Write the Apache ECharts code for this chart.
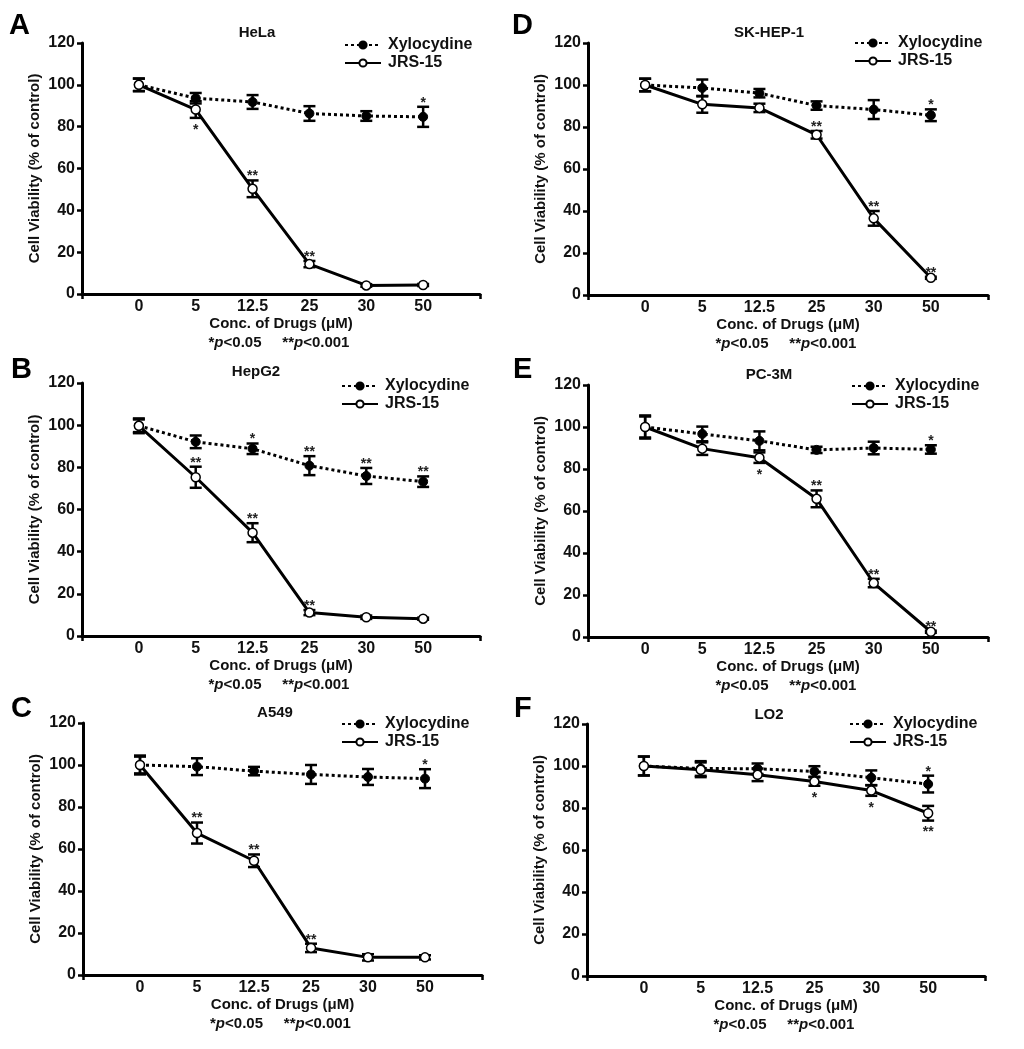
<!DOCTYPE html>
<html>
<head>
<meta charset="utf-8">
<script src="https://cdn.jsdelivr.net/npm/echarts@6/dist/echarts.min.js"></script>
<style>
  html, body { margin: 0; padding: 0; background: #fff; }
  #chart { width: 1024px; height: 1049px; }
</style>
</head>
<body>
<div id="chart"></div>
<script>
var FONT = 'Arial, "Liberation Sans", Helvetica, sans-serif';

var cats = ['0', '5', '12.5', '25', '30', '50'];

// A - HeLa
var helaXylo = [100, 93.6, 91.8, 86.3, 85.1, 84.7];
var helaXyloErr = [3, 2.5, 3.3, 3.5, 2.3, 4.8];
var helaJrs = [100, 88.2, 50.3, 14.3, 4.1, 4.3];
var helaJrsErr = [3, 4, 4, 1.5, 0.6, 0.5];
var helaXyloSig = ['', '', '', '', '', '*'];
var helaJrsSig = ['', '*', '**', '**', '', ''];
var helaJrsBelow = [0, 1, 0, 0, 0, 0];

// B - HepG2
var hepg2Xylo = [99.7, 92.1, 88.8, 80.8, 75.9, 73.2];
var hepg2XyloErr = [3.5, 3, 2.5, 4.5, 3.8, 2.5];
var hepg2Jrs = [99.7, 75.3, 49, 11.1, 8.9, 8.2];
var hepg2JrsErr = [3, 5, 4.5, 1.2, 0.8, 0.5];
var hepg2XyloSig = ['', '', '*', '**', '**', '**'];
var hepg2JrsSig = ['', '**', '**', '**', '', ''];
var hepg2JrsBelow = [0, 0, 0, 0, 0, 0];

// C - A549
var a549Xylo = [100, 99.2, 97.1, 95.5, 94.3, 93.5];
var a549XyloErr = [4.5, 4, 2, 4.5, 3.8, 4.5];
var a549Jrs = [100, 67.6, 54.4, 12.9, 8.4, 8.4];
var a549JrsErr = [4, 5, 3, 2, 1.5, 1];
var a549XyloSig = ['', '', '', '', '', '*'];
var a549JrsSig = ['', '**', '**', '**', '', ''];
var a549JrsBelow = [0, 0, 0, 0, 0, 0];

// D - SK-HEP-1
var skXylo = [100, 98.6, 96.1, 90.2, 88.3, 85.6];
var skXyloErr = [3, 4, 2, 2, 4.5, 2.8];
var skJrs = [100, 90.8, 89.1, 76.3, 36.5, 8.2];
var skJrsErr = [3, 4, 2, 1.8, 3.5, 0.5];
var skXyloSig = ['', '', '', '', '', '*'];
var skJrsSig = ['', '', '', '**', '**', '**'];
var skJrsBelow = [0, 0, 0, 0, 0, 0];

// E - PC-3M
var pcXylo = [100, 96.7, 93.4, 89.1, 90, 89.3];
var pcXyloErr = [5.5, 3.5, 4.5, 1.5, 3, 2];
var pcJrs = [100, 89.7, 85.4, 65.8, 25.7, 2.5];
var pcJrsErr = [5, 3, 2.5, 4, 2, 0.5];
var pcXyloSig = ['', '', '', '', '', '*'];
var pcJrsSig = ['', '', '*', '**', '**', '**'];
var pcJrsBelow = [0, 0, 1, 0, 0, 0];

// F - LO2
var lo2Xylo = [100, 98.8, 98.7, 97.4, 94.4, 91.4];
var lo2XyloErr = [4.5, 3.5, 2.5, 2.5, 3.5, 4];
var lo2Jrs = [100, 98.2, 95.8, 92.6, 88.3, 77.5];
var lo2JrsErr = [4.5, 3.5, 3, 2, 2.5, 3.5];
var lo2XyloSig = ['', '', '', '', '', '*'];
var lo2JrsSig = ['', '', '', '*', '*', '**'];
var lo2JrsBelow = [0, 0, 0, 1, 1, 1];

var panels = [
  { letter: 'A', name: 'HeLa', xylo: helaXylo, xyloErr: helaXyloErr, jrs: helaJrs, jrsErr: helaJrsErr,
    xyloSig: helaXyloSig, jrsSig: helaJrsSig, jrsBelow: helaJrsBelow,
    grid: [82, 43, 398, 251], letterAt: [9, 25], titleAt: [257, 33], legendAt: [344, 37] },
  { letter: 'B', name: 'HepG2', xylo: hepg2Xylo, xyloErr: hepg2XyloErr, jrs: hepg2Jrs, jrsErr: hepg2JrsErr,
    xyloSig: hepg2XyloSig, jrsSig: hepg2JrsSig, jrsBelow: hepg2JrsBelow,
    grid: [82, 383, 398, 253], letterAt: [11, 369], titleAt: [256, 372], legendAt: [341, 378] },
  { letter: 'C', name: 'A549', xylo: a549Xylo, xyloErr: a549XyloErr, jrs: a549Jrs, jrsErr: a549JrsErr,
    xyloSig: a549XyloSig, jrsSig: a549JrsSig, jrsBelow: a549JrsBelow,
    grid: [83, 723, 399, 252], letterAt: [11, 708], titleAt: [275, 713], legendAt: [341, 716] },
  { letter: 'D', name: 'SK-HEP-1', xylo: skXylo, xyloErr: skXyloErr, jrs: skJrs, jrsErr: skJrsErr,
    xyloSig: skXyloSig, jrsSig: skJrsSig, jrsBelow: skJrsBelow,
    grid: [588, 43, 400, 252], letterAt: [512, 25], titleAt: [769, 33], legendAt: [854, 35] },
  { letter: 'E', name: 'PC-3M', xylo: pcXylo, xyloErr: pcXyloErr, jrs: pcJrs, jrsErr: pcJrsErr,
    xyloSig: pcXyloSig, jrsSig: pcJrsSig, jrsBelow: pcJrsBelow,
    grid: [588, 385, 400, 252], letterAt: [513, 369], titleAt: [769, 375], legendAt: [851, 378] },
  { letter: 'F', name: 'LO2', xylo: lo2Xylo, xyloErr: lo2XyloErr, jrs: lo2Jrs, jrsErr: lo2JrsErr,
    xyloSig: lo2XyloSig, jrsSig: lo2JrsSig, jrsBelow: lo2JrsBelow,
    grid: [587, 724, 398, 252], letterAt: [514, 708], titleAt: [769, 715], legendAt: [849, 716] }
];

var chart = echarts.init(document.getElementById('chart'));

function errorBars(vals, errs) {
  return vals.map(function (v, i) { return [i, v - errs[i], v + errs[i]]; });
}

function renderError(params, api) {
  var top = api.coord([api.value(0), api.value(2)]);
  var bot = api.coord([api.value(0), api.value(1)]);
  var w = 6;
  var st = { stroke: '#000', lineWidth: 2.5 };
  return {
    type: 'group',
    children: [
      { type: 'line', shape: { x1: top[0], y1: top[1], x2: bot[0], y2: bot[1] }, style: st },
      { type: 'line', shape: { x1: top[0] - w, y1: top[1], x2: top[0] + w, y2: top[1] }, style: st },
      { type: 'line', shape: { x1: bot[0] - w, y1: bot[1], x2: bot[0] + w, y2: bot[1] }, style: st }
    ]
  };
}

var grid = [], xAxis = [], yAxis = [], series = [], legend = [], graphic = [];

panels.forEach(function (p, k) {
  grid.push({ left: p.grid[0], top: p.grid[1], width: p.grid[2], height: p.grid[3] });

  xAxis.push({
    gridIndex: k, type: 'value', min: -1, max: 6, interval: 1,
    name: 'Conc. of Drugs (μM)', nameLocation: 'middle', nameGap: 21,
    nameTextStyle: { fontFamily: FONT, fontWeight: 'bold', fontSize: 15, color: '#111' },
    axisLine: { onZero: false, lineStyle: { color: '#000', width: 3 } },
    axisTick: { customValues: [-1, 6], length: 5, lineStyle: { color: '#000', width: 2.5 } },
    axisLabel: {
      customValues: [0, 1, 2, 3, 4, 5],
      formatter: function (v) { return (v >= 0 && v <= 5) ? cats[v] : ''; },
      fontFamily: FONT, fontWeight: 'bold', fontSize: 16, color: '#111', margin: 5
    },
    splitLine: { show: false }
  });

  yAxis.push({
    gridIndex: k, type: 'value', min: 0, max: 120, interval: 20,
    name: 'Cell Viability (% of control)', nameLocation: 'middle', nameGap: 40,
    nameTextStyle: { fontFamily: FONT, fontWeight: 'bold', fontSize: 15, color: '#111' },
    axisLine: { show: true, onZero: false, lineStyle: { color: '#000', width: 3 } },
    axisTick: { show: true, length: 5, lineStyle: { color: '#000', width: 2.5 } },
    axisLabel: { fontFamily: FONT, fontWeight: 'bold', fontSize: 16, color: '#111', margin: 7 },
    splitLine: { show: false }
  });

  var xyloBars = errorBars(p.xylo, p.xyloErr);
  var jrsBars = errorBars(p.jrs, p.jrsErr);

  series.push({
    type: 'custom', xAxisIndex: k, yAxisIndex: k, z: 2, silent: true,
    renderItem: renderError, data: xyloBars
  });
  series.push({
    type: 'custom', xAxisIndex: k, yAxisIndex: k, z: 2, silent: true,
    renderItem: renderError, data: jrsBars
  });

  series.push({
    name: 'Xylocydine', type: 'line', xAxisIndex: k, yAxisIndex: k, z: 3,
    data: p.xylo.map(function (v, i) { return [i, v]; }),
    symbol: 'circle', symbolSize: 9,
    itemStyle: { color: '#000', borderColor: '#000', borderWidth: 1 },
    lineStyle: { color: '#000', width: 3, type: [3, 3] }
  });
  series.push({
    name: 'JRS-15', type: 'line', xAxisIndex: k, yAxisIndex: k, z: 4,
    data: p.jrs.map(function (v, i) { return [i, v]; }),
    symbol: 'circle', symbolSize: 9,
    itemStyle: { color: '#fff', borderColor: '#000', borderWidth: 1.5 },
    lineStyle: { color: '#000', width: 3, type: 'solid' }
  });

  // significance marks
  var marks = [];
  p.xyloSig.forEach(function (s, i) { if (s) marks.push({ v: xyloBars[i], s: s, below: 0 }); });
  p.jrsSig.forEach(function (s, i) { if (s) marks.push({ v: jrsBars[i], s: s, below: p.jrsBelow[i] }); });
  series.push({
    type: 'custom', xAxisIndex: k, yAxisIndex: k, z: 5, silent: true,
    data: marks.map(function (m) { return m.v; }),
    renderItem: function (params, api) {
      var m = marks[params.dataIndex];
      var pt = m.below ? api.coord([api.value(0), api.value(1)]) : api.coord([api.value(0), api.value(2)]);
      return {
        type: 'text',
        style: {
          text: m.s, x: pt[0], y: m.below ? pt[1] + 12 : pt[1] - 4,
          align: 'center', verticalAlign: 'middle',
          font: 'bold 14px ' + FONT, fill: '#222'
        }
      };
    }
  });

  legend.push({
    data: ['Xylocydine', 'JRS-15'], orient: 'vertical',
    left: p.legendAt[0], top: p.legendAt[1], padding: 0,
    itemWidth: 36, itemHeight: 9, itemGap: 2, selectedMode: false,
    textStyle: { fontFamily: FONT, fontWeight: 'bold', fontSize: 16, color: '#111', padding: [0, 0, 0, 2] }
  });

  graphic.push({
    type: 'text', left: p.letterAt[0], top: p.letterAt[1] - 14,
    style: { text: p.letter, font: 'bold 29px ' + FONT, fill: '#000' }
  });
  graphic.push({
    type: 'text', x: p.titleAt[0], y: p.titleAt[1],
    style: { text: p.name, font: 'bold 15px ' + FONT, fill: '#111', align: 'center', verticalAlign: 'middle' }
  });
  graphic.push({
    type: 'text', x: p.grid[0] + p.grid[2] / 2 - 2, y: p.grid[1] + p.grid[3] + 49,
    style: {
      text: '{n|*}{i|p}{n|<0.05     **}{i|p}{n|<0.001}',
      align: 'center', verticalAlign: 'middle',
      rich: {
        n: { font: 'bold 15px ' + FONT, fill: '#111' },
        i: { font: 'italic bold 15px ' + FONT, fill: '#111' }
      }
    }
  });
});

var option = {
  backgroundColor: '#fff',
  animation: false,
  grid: grid,
  xAxis: xAxis,
  yAxis: yAxis,
  legend: legend,
  series: series,
  graphic: graphic
};

option && chart.setOption(option);
</script>
</body>
</html>
